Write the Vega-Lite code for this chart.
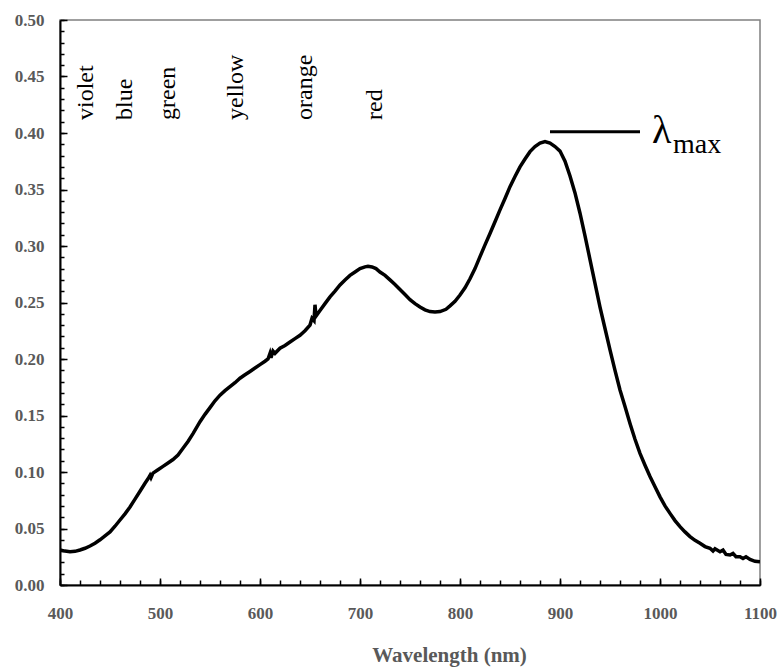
{
  "$schema": "https://vega.github.io/schema/vega-lite/v6.json",
  "width": 700,
  "height": 565,
  "autosize": {"type": "none"},
  "padding": {"left": 60, "top": 20, "right": 22, "bottom": 82},
  "background": "white",
  "config": {
    "view": {"stroke": "#808080", "strokeWidth": 1.5},
    "font": "Liberation Serif"
  },
  "resolve": {"axis": {"x": "independent", "y": "independent"}},
  "datasets": {
    "spectrum": [
      {"wl":400,"abs":0.031},{"wl":405,"abs":0.030},{"wl":410,"abs":0.0295},{"wl":415,"abs":0.0298},{"wl":420,"abs":0.031},
      {"wl":425,"abs":0.0325},{"wl":430,"abs":0.0345},{"wl":435,"abs":0.037},{"wl":440,"abs":0.040},{"wl":445,"abs":0.0435},
      {"wl":450,"abs":0.047},{"wl":455,"abs":0.052},{"wl":460,"abs":0.0575},{"wl":465,"abs":0.063},{"wl":470,"abs":0.069},
      {"wl":475,"abs":0.076},{"wl":480,"abs":0.083},{"wl":485,"abs":0.090},{"wl":488,"abs":0.094},{"wl":490,"abs":0.097},
      {"wl":491,"abs":0.095},{"wl":493,"abs":0.099},{"wl":498,"abs":0.102},{"wl":503,"abs":0.105},{"wl":508,"abs":0.108},
      {"wl":513,"abs":0.111},{"wl":518,"abs":0.115},{"wl":523,"abs":0.121},{"wl":528,"abs":0.127},{"wl":533,"abs":0.134},
      {"wl":540,"abs":0.1445},{"wl":545,"abs":0.151},{"wl":550,"abs":0.157},{"wl":555,"abs":0.163},{"wl":560,"abs":0.168},
      {"wl":565,"abs":0.172},{"wl":570,"abs":0.1755},{"wl":575,"abs":0.179},{"wl":580,"abs":0.183},{"wl":585,"abs":0.186},
      {"wl":590,"abs":0.189},{"wl":595,"abs":0.192},{"wl":600,"abs":0.195},{"wl":605,"abs":0.198},{"wl":608,"abs":0.200},
      {"wl":610,"abs":0.205},{"wl":611,"abs":0.201},{"wl":613,"abs":0.207},{"wl":615,"abs":0.205},{"wl":620,"abs":0.2095},
      {"wl":625,"abs":0.212},{"wl":630,"abs":0.215},{"wl":635,"abs":0.218},{"wl":640,"abs":0.221},{"wl":645,"abs":0.225},
      {"wl":650,"abs":0.230},{"wl":652,"abs":0.236},{"wl":654,"abs":0.234},{"wl":655,"abs":0.248},{"wl":656,"abs":0.238},
      {"wl":660,"abs":0.243},{"wl":665,"abs":0.249},{"wl":670,"abs":0.255},{"wl":675,"abs":0.260},{"wl":680,"abs":0.2655},
      {"wl":685,"abs":0.270},{"wl":690,"abs":0.274},{"wl":695,"abs":0.277},{"wl":700,"abs":0.280},{"wl":705,"abs":0.2815},
      {"wl":708,"abs":0.282},{"wl":712,"abs":0.2815},{"wl":716,"abs":0.280},{"wl":720,"abs":0.277},{"wl":725,"abs":0.274},
      {"wl":730,"abs":0.270},{"wl":735,"abs":0.266},{"wl":740,"abs":0.2615},{"wl":745,"abs":0.257},{"wl":750,"abs":0.2525},
      {"wl":755,"abs":0.249},{"wl":760,"abs":0.246},{"wl":765,"abs":0.2435},{"wl":770,"abs":0.242},{"wl":775,"abs":0.2415},
      {"wl":780,"abs":0.242},{"wl":786,"abs":0.244},{"wl":790,"abs":0.247},{"wl":795,"abs":0.251},{"wl":800,"abs":0.2566},
      {"wl":805,"abs":0.263},{"wl":810,"abs":0.271},{"wl":815,"abs":0.280},{"wl":820,"abs":0.2906},{"wl":825,"abs":0.301},
      {"wl":830,"abs":0.311},{"wl":835,"abs":0.3215},{"wl":840,"abs":0.332},{"wl":845,"abs":0.342},{"wl":850,"abs":0.3525},
      {"wl":855,"abs":0.3615},{"wl":860,"abs":0.370},{"wl":865,"abs":0.377},{"wl":870,"abs":0.3835},{"wl":875,"abs":0.388},
      {"wl":880,"abs":0.391},{"wl":885,"abs":0.3925},{"wl":890,"abs":0.391},{"wl":895,"abs":0.388},{"wl":900,"abs":0.384},
      {"wl":905,"abs":0.375},{"wl":910,"abs":0.362},{"wl":915,"abs":0.347},{"wl":920,"abs":0.329},{"wl":925,"abs":0.309},
      {"wl":930,"abs":0.288},{"wl":935,"abs":0.267},{"wl":940,"abs":0.246},{"wl":945,"abs":0.227},{"wl":950,"abs":0.208},
      {"wl":955,"abs":0.190},{"wl":960,"abs":0.1726},{"wl":965,"abs":0.158},{"wl":970,"abs":0.143},{"wl":975,"abs":0.129},
      {"wl":980,"abs":0.1165},{"wl":985,"abs":0.106},{"wl":990,"abs":0.096},{"wl":995,"abs":0.087},{"wl":1000,"abs":0.078},
      {"wl":1005,"abs":0.070},{"wl":1010,"abs":0.0634},{"wl":1015,"abs":0.057},{"wl":1020,"abs":0.0516},{"wl":1025,"abs":0.047},
      {"wl":1030,"abs":0.0428},{"wl":1035,"abs":0.0395},{"wl":1040,"abs":0.0369},{"wl":1045,"abs":0.034},{"wl":1050,"abs":0.0325},
      {"wl":1053,"abs":0.030},{"wl":1055,"abs":0.032},{"wl":1060,"abs":0.0295},{"wl":1063,"abs":0.031},{"wl":1066,"abs":0.027},
      {"wl":1070,"abs":0.0265},{"wl":1073,"abs":0.028},{"wl":1076,"abs":0.025},{"wl":1080,"abs":0.025},{"wl":1083,"abs":0.0235},
      {"wl":1086,"abs":0.025},{"wl":1090,"abs":0.0227},{"wl":1095,"abs":0.021},{"wl":1100,"abs":0.0206}
    ],
    "colors": [
      {"wl":433,"abs":0.4115,"name":"violet"},
      {"wl":472,"abs":0.4115,"name":"blue"},
      {"wl":515,"abs":0.4115,"name":"green"},
      {"wl":583,"abs":0.4115,"name":"yellow"},
      {"wl":652,"abs":0.4115,"name":"orange"},
      {"wl":722,"abs":0.4115,"name":"red"}
    ],
    "marker": [{"x1":890,"x2":980,"y":0.401}],
    "lambda": [{"wl":992,"abs":0.391,"t":"λ"}],
    "sub": [{"wl":1013,"abs":0.3823,"t":"max"}]
  },
  "layer": [
    {
      "data": {"name": "spectrum"},
      "mark": {"type": "line", "color": "black", "strokeWidth": 3.5, "clip": true},
      "encoding": {
        "x": {
          "field": "wl", "type": "quantitative",
          "scale": {"domain": [400, 1100], "nice": false, "zero": false},
          "axis": {
            "orient": "bottom",
            "title": "Wavelength (nm)",
            "titleFont": "Liberation Serif", "titleFontSize": 21, "titleFontWeight": "bold", "titleColor": "#595959",
            "titleX": 389, "titleY": 70, "titleAnchor": null, "titleAlign": "center", "titleBaseline": "middle",
            "values": [400,500,600,700,800,900,1000,1100],
            "format": "d",
            "labelFont": "Liberation Serif", "labelFontSize": 17, "labelFontWeight": "bold", "labelColor": "#595959",
            "labelPadding": 27, "labelFlush": false, "labelOverlap": false,
            "grid": false,
            "domainColor": "black", "domainWidth": 2,
            "tickColor": "black", "tickWidth": 1.5, "tickSize": -7
          }
        },
        "y": {
          "field": "abs", "type": "quantitative",
          "scale": {"domain": [0, 0.5], "nice": false},
          "axis": {
            "orient": "left",
            "title": null,
            "values": [0,0.05,0.1,0.15,0.2,0.25,0.3,0.35,0.4,0.45,0.5],
            "format": ".2f",
            "labelFont": "Liberation Serif", "labelFontSize": 17, "labelFontWeight": "bold", "labelColor": "#595959",
            "labelPadding": 23, "labelFlush": false, "labelOverlap": false,
            "grid": false,
            "domainColor": "black", "domainWidth": 2,
            "tickColor": "black", "tickWidth": 1.5, "tickSize": -7
          }
        }
      }
    },
    {
      "data": {"name": "colors"},
      "mark": {"type": "text", "angle": 270, "align": "left", "baseline": "alphabetic", "font": "Liberation Serif", "fontSize": 24, "color": "black"},
      "encoding": {
        "x": {
          "field": "wl", "type": "quantitative",
          "axis": {
            "orient": "bottom", "title": null, "labels": false, "domain": false, "grid": false,
            "values": [400,420,440,460,480,500,520,540,560,580,600,620,640,660,680,700,720,740,760,780,800,820,840,860,880,900,920,940,960,980,1000,1020,1040,1060,1080,1100],
            "tickColor": "black", "tickWidth": 1.5, "tickSize": -5
          }
        },
        "y": {
          "field": "abs", "type": "quantitative",
          "axis": {
            "orient": "left", "title": null, "labels": false, "domain": false, "grid": false,
            "values": [0,0.01,0.02,0.03,0.04,0.05,0.06,0.07,0.08,0.09,0.1,0.11,0.12,0.13,0.14,0.15,0.16,0.17,0.18,0.19,0.2,0.21,0.22,0.23,0.24,0.25,0.26,0.27,0.28,0.29,0.3,0.31,0.32,0.33,0.34,0.35,0.36,0.37,0.38,0.39,0.4,0.41,0.42,0.43,0.44,0.45,0.46,0.47,0.48,0.49,0.5],
            "tickColor": "black", "tickWidth": 1.5, "tickSize": -4
          }
        },
        "text": {"field": "name"}
      }
    },
    {
      "data": {"name": "marker"},
      "mark": {"type": "rule", "color": "black", "strokeWidth": 3},
      "encoding": {
        "x": {"field": "x1", "type": "quantitative", "axis": null},
        "x2": {"field": "x2"},
        "y": {"field": "y", "type": "quantitative", "axis": null}
      }
    },
    {
      "data": {"name": "lambda"},
      "mark": {"type": "text", "align": "left", "baseline": "alphabetic", "font": "Liberation Serif", "fontSize": 40, "color": "black"},
      "encoding": {
        "x": {"field": "wl", "type": "quantitative", "axis": null},
        "y": {"field": "abs", "type": "quantitative", "axis": null},
        "text": {"field": "t"}
      }
    },
    {
      "data": {"name": "sub"},
      "mark": {"type": "text", "align": "left", "baseline": "alphabetic", "font": "Liberation Serif", "fontSize": 28, "color": "black"},
      "encoding": {
        "x": {"field": "wl", "type": "quantitative", "axis": null},
        "y": {"field": "abs", "type": "quantitative", "axis": null},
        "text": {"field": "t"}
      }
    }
  ]
}
